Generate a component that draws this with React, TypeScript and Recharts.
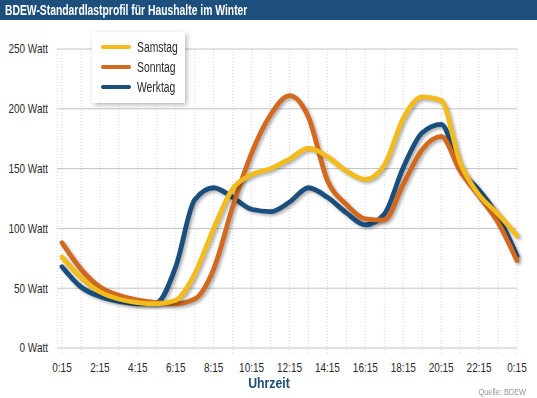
import { LineChart, Line, XAxis, YAxis, CartesianGrid, Legend } from 'recharts'

// Uhrzeit in Stunden ab 0:15 (0 = 0:15, 24 = 0:15 am Folgetag)
const HOURS = [0, 1, 2, 3, 4, 5, 6, 7, 8, 9, 10, 11, 12, 13, 14, 15, 16, 17, 18, 19, 20, 21, 22, 23, 24]

// Leistung in Watt
const SAMSTAG = [76, 59, 47, 41, 38, 37, 40, 62, 100, 133, 145, 150, 158, 167, 160, 148, 141, 153, 192, 210, 207, 155, 128, 112, 94]
const SONNTAG = [88, 66, 51, 44, 40, 38, 37, 41, 66, 118, 163, 195, 211, 193, 140, 120, 108, 107, 137, 166, 177, 148, 127, 105, 73]
const WERKTAG = [68, 51, 43, 39, 37, 38, 68, 124, 134, 126, 116, 114, 122, 134, 126, 113, 103, 112, 151, 180, 187, 150, 132, 110, 77]

const Y_TICKS = [0, 50, 100, 150, 200, 250]

const FONT = "'Liberation Sans', Arial, sans-serif"
const NAVY = '#1c4f7c'
const NARROW = 0.8 // Schrift schmaler laufen lassen (Original ist Condensed)

const SERIES = [
  { key: 'samstag', name: 'Samstag', color: '#f4bb1c' },
  { key: 'sonntag', name: 'Sonntag', color: '#d2691f' },
  { key: 'werktag', name: 'Werktag', color: '#1a4f7d' }
]
// Zeichenreihenfolge: Werktag unten, Samstag oben
const DRAW_ORDER = ['werktag', 'sonntag', 'samstag']

const data = HOURS.map((h, i) => ({
  h,
  samstag: SAMSTAG[i],
  sonntag: SONNTAG[i],
  werktag: WERKTAG[i]
}))

const fmtHour = (h: number) => (h % 2 === 0 ? `${h % 24}:15` : '')

function NarrowText({ x, y, anchor, children, size = 12.5 }: any) {
  return (
    <g transform={`translate(${x},${y}) scale(${NARROW},1)`}>
      <text x={0} y={0} textAnchor={anchor} dominantBaseline="central" fill="#2a2a2a" fontSize={size} fontFamily={FONT}>
        {children}
      </text>
    </g>
  )
}

const XTick = ({ x, y, payload }: any) => (
  <NarrowText x={x} y={y + 9} anchor="middle">{fmtHour(payload.value)}</NarrowText>
)

const YTick = ({ x, y, payload }: any) => (
  <NarrowText x={x} y={y} anchor="end">{`${payload.value} Watt`}</NarrowText>
)

function LegendBox() {
  return (
    <div
      style={{
        background: '#fff',
        boxShadow: '2px 2px 5px rgba(0,0,0,0.28)',
        padding: '5px 8px 6px 9px',
        width: 93,
        boxSizing: 'border-box',
        fontFamily: FONT,
        fontSize: 14,
        color: '#2a2a2a'
      }}
    >
      {SERIES.map((s) => (
        <div key={s.key} style={{ display: 'flex', alignItems: 'center', height: 20 }}>
          <span style={{ flex: 'none', width: 30, height: 4.5, borderRadius: 2, background: s.color, marginRight: 6 }} />
          <span style={{ display: 'inline-block', transform: 'scaleX(0.74)', transformOrigin: 'left center', whiteSpace: 'nowrap' }}>
            {s.name}
          </span>
        </div>
      ))}
    </div>
  )
}

export default function App() {
  return (
    <div style={{ position: 'relative', width: 537, height: 398, background: '#fff', fontFamily: FONT }}>
      <style>{'body{margin:0}'}</style>
      <div
        style={{
          position: 'absolute', left: 0, top: 0, width: 537, height: 20, background: NAVY, overflow: 'hidden'
        }}
      >
        <div
          style={{
            position: 'absolute', left: 5, top: 0, color: '#fff', fontWeight: 'bold', fontSize: 15,
            lineHeight: '20px', whiteSpace: 'nowrap', transform: 'scaleX(0.69)', transformOrigin: 'left center'
          }}
        >
          BDEW-Standardlastprofil für Haushalte im Winter
        </div>
      </div>
      <div style={{ position: 'absolute', top: 0, left: 0 }}>
        <LineChart width={537} height={398} data={data} margin={{ top: 49, right: 20, bottom: 20, left: 0 }}>
          <CartesianGrid horizontal={false} stroke="#d8d8d8" strokeDasharray="1 2" />
          <CartesianGrid vertical={false} stroke="#c4c4c4" />
          <XAxis
            dataKey="h"
            type="number"
            domain={[0, 24]}
            ticks={HOURS}
            interval={0}
            padding={{ left: 5, right: 0 }}
            height={30}
            axisLine={false}
            tickSize={5}
            tickLine={{ stroke: '#d8d8d8', strokeDasharray: '1 2' }}
            tickMargin={6}
            tick={<XTick />}
          />
          <YAxis
            domain={[0, 250]}
            ticks={Y_TICKS}
            width={57}
            axisLine={false}
            tickLine={false}
            tickSize={0}
            tickMargin={9}
            tick={<YTick />}
          />
          <Legend
            layout="horizontal"
            verticalAlign="middle"
            align="center"
            content={() => <LegendBox />}
            wrapperStyle={{ position: 'absolute', left: 92, top: 32, width: 'auto' }}
          />
          {DRAW_ORDER.map((k) => {
            const s = SERIES.find((x) => x.key === k)!
            return (
              <Line
                key={s.key}
                type="monotone"
                dataKey={s.key}
                name={s.name}
                stroke={s.color}
                strokeWidth={4.8}
                strokeLinecap="round"
                dot={false}
                activeDot={false}
                isAnimationActive={false}
                style={{ filter: 'drop-shadow(2px 2px 1.5px rgba(0,0,0,0.3))' }}
              />
            )
          })}
        </LineChart>
      </div>
      <div
        style={{
          position: 'absolute', left: 229, width: 80, textAlign: 'center', top: 374,
          color: NAVY, fontWeight: 'bold', fontSize: 15, transform: 'scaleX(0.82)'
        }}
      >
        Uhrzeit
      </div>
      <div
        style={{
          position: 'absolute', right: 11, top: 387, color: '#999', fontSize: 9,
          transform: 'scaleX(0.82)', transformOrigin: 'right center', whiteSpace: 'nowrap'
        }}
      >
        Quelle: BDEW
      </div>
    </div>
  )
}
